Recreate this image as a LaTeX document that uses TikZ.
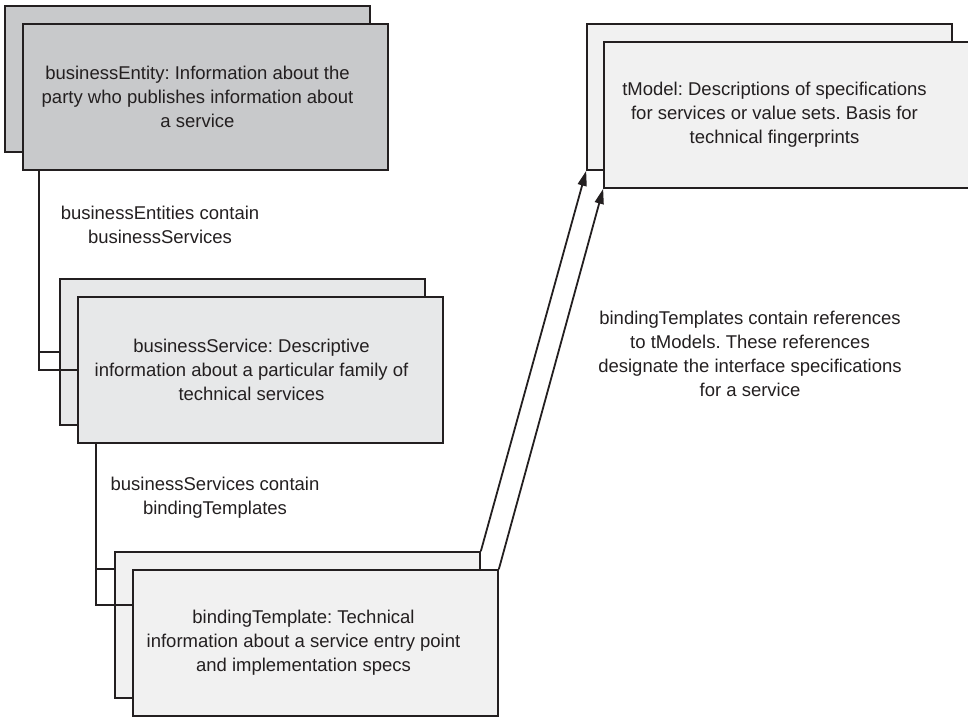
\documentclass[tikz,border=0pt]{standalone}
\usepackage{fontspec}
\setmainfont{Liberation Sans}
\usetikzlibrary{arrows.meta}
\definecolor{ink}{HTML}{231F20}
\definecolor{entityfill}{HTML}{C8C9CB}
\definecolor{servicefill}{HTML}{E7E8E9}
\definecolor{lightfill}{HTML}{F1F1F1}
\frenchspacing
\begin{document}
\begin{tikzpicture}[x=1pt,y=-1pt,
  card/.style={draw=ink,line width=1.7pt,minimum width=365pt,minimum height=146pt,inner sep=0pt},
  cardtext/.style={text=ink,align=center,font=\fontsize{18.5}{24}\selectfont},
  wire/.style={draw=ink,line width=1.8pt},
  ref/.style={wire,-{Triangle[length=15pt,width=9pt]}}]
\useasboundingbox (0,0) rectangle (968,716);

% businessEntity stack
\node[card,fill=entityfill] (e1) at (187.5,79) {};
\node[card,fill=entityfill] (e2) at (205.5,97) {};
\node[cardtext] (e2t) at ([xshift=-8pt]e2.center)
  {businessEntity: Information about the\\party who publishes information about\\a service};

% businessService stack
\node[card,fill=servicefill] (s1) at (242.5,352) {};
\node[card,fill=servicefill] (s2) at (260.5,370) {};
\node[cardtext] (s2t) at ([xshift=-9pt]s2.center)
  {businessService: Descriptive\\information about a particular family of\\technical services};

% bindingTemplate stack
\node[card,fill=lightfill] (t1) at (297.5,625) {};
\node[card,fill=lightfill] (t2) at (315.5,643) {};
\node[cardtext] (t2t) at ([xshift=-12pt]t2.center)
  {bindingTemplate: Technical\\information about a service entry point\\and implementation specs};

% tModel stack
\node[card,fill=lightfill] (m1) at (769.5,97) {};
\node[card,fill=lightfill] (m2) at (786.5,115) {};
\node[cardtext] (m2t) at ([xshift=-12pt]m2.center)
  {tModel: Descriptions of specifications\\for services or value sets. Basis for\\technical fingerprints};

% containment connectors
\coordinate (ej) at ([xshift=17pt]e2.south west);
\draw[wire] (ej) |- (s2.west);
\draw[wire] (ej |- s1.west) -- (s1.west);
\coordinate (sj) at ([xshift=19pt]s2.south west);
\coordinate (t1in) at ([yshift=-18pt]t1.north west);
\coordinate (t2in) at ([yshift=-36pt]t2.north west);
\draw[wire] (sj) |- (t2in);
\draw[wire] (sj |- t1in) -- (t1in);

% references to tModels
\draw[ref] (t1.north east) -- (m1.south west);
\draw[ref] (t2.north east) -- (m2.south west);

% connector labels
\node[cardtext] (l1) at (160,225) {businessEntities contain\\businessServices};
\node[cardtext] (l2) at (215,498) {businessServices contain\\bindingTemplates};
\node[cardtext] (l3) at (750,354) {bindingTemplates contain references\\to tModels. These references\\designate the interface specifications\\for a service};
\end{tikzpicture}
\end{document}
